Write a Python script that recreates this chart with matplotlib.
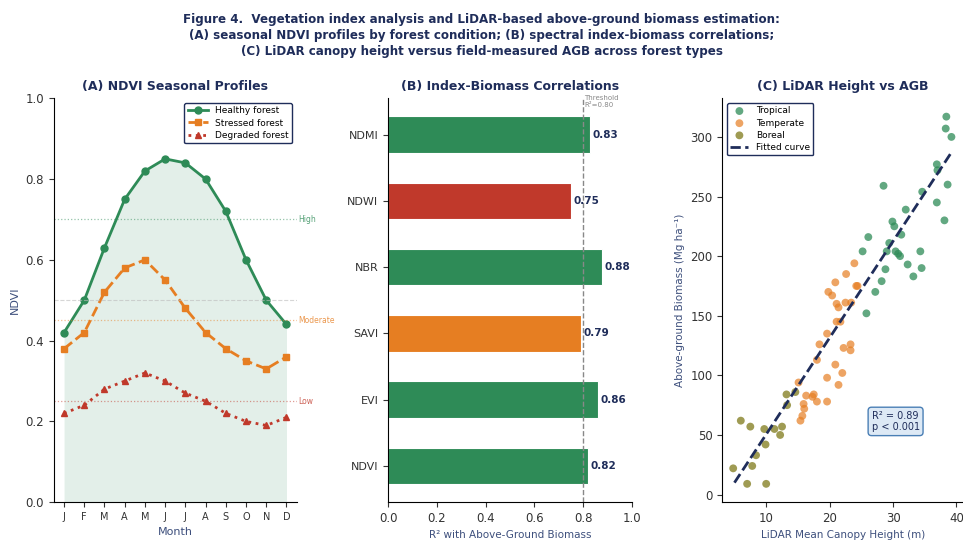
import numpy as np
import matplotlib
matplotlib.use("Agg")
import matplotlib.pyplot as plt

# ---- Panel A: seasonal NDVI ----
months = ["J", "F", "M", "A", "M", "J", "J", "A", "S", "O", "N", "D"]
ndvi_healthy = [0.42, 0.50, 0.63, 0.75, 0.82, 0.85, 0.84, 0.80, 0.72, 0.60, 0.50, 0.44]
ndvi_stressed = [0.38, 0.42, 0.52, 0.58, 0.60, 0.55, 0.48, 0.42, 0.38, 0.35, 0.33, 0.36]
ndvi_degraded = [0.22, 0.24, 0.28, 0.30, 0.32, 0.30, 0.27, 0.25, 0.22, 0.20, 0.19, 0.21]
threshold_names = ["High", "Moderate", "Low"]
threshold_values = [0.70, 0.45, 0.25]

# ---- Panel B: index-biomass correlations ----
indices = ["NDVI", "EVI", "SAVI", "NBR", "NDWI", "NDMI"]
r2_values = [0.82, 0.86, 0.79, 0.88, 0.75, 0.83]
r2_threshold = 0.80

# ---- Panel C: LiDAR height vs AGB ----
tropical_h = [25.8, 27.2, 28.2, 28.8, 25.2, 26.1, 29.0, 29.4, 30.4, 30.8, 31.1, 32.3,
              33.2, 34.3, 34.5, 31.3, 28.5, 29.9, 30.2, 32.0, 34.6, 36.9, 37.0, 36.9,
              38.1, 38.6, 38.4, 38.3, 39.2]
tropical_agb = [152, 170, 179, 189, 204, 216, 204, 211, 204, 202, 200, 193,
                183, 204, 190, 218, 259, 229, 225, 239, 254, 277, 272, 245,
                230, 260, 317, 307, 300]
temperate_h = [15.1, 15.4, 15.7, 15.9, 16.0, 16.3, 17.3, 17.5, 18.0, 18.0, 18.4, 19.6,
               19.6, 19.6, 20.9, 21.4, 22.0, 22.2, 23.3, 23.3, 21.1, 21.7, 21.1, 21.4,
               22.5, 23.4, 19.8, 20.4, 20.9, 24.4, 22.6, 23.9, 24.2]
temperate_agb = [94, 62, 66, 76, 72, 83, 82, 84, 78, 113, 126, 98,
                 78, 135, 109, 92, 102, 123, 126, 121, 145, 145, 160, 157,
                 161, 161, 170, 167, 178, 175, 185, 194, 175]
boreal_h = [4.8, 6.0, 7.0, 7.5, 7.8, 8.4, 9.7, 9.9, 10.0, 11.3, 12.2, 12.5, 13.2, 13.3, 14.6]
boreal_agb = [22, 62, 9, 57, 24, 33, 55, 42, 9, 55, 50, 57, 84, 75, 86]

# Linear fit of AGB on canopy height
fit_slope = 8.1
fit_intercept = -30.5
fit_range = [5.0, 39.3]

NAVY = "#1f2d5a"
LABEL = "#3d4f7c"
GREEN = "#2e8b57"
ORANGE = "#e67e22"
RED = "#c0392b"

plt.rcParams["font.family"] = ["DejaVu Sans"]

fig = plt.figure(figsize=(9.63, 5.4), dpi=100)

fig.text(0.5, 0.975,
         "Figure 4.  Vegetation index analysis and LiDAR-based above-ground biomass estimation:\n"
         "(A) seasonal NDVI profiles by forest condition; (B) spectral index-biomass correlations;\n"
         "(C) LiDAR canopy height versus field-measured AGB across forest types",
         ha="center", va="top", fontsize=8.6, fontweight="bold", color=NAVY,
         linespacing=1.25)

axA = fig.add_axes([0.056, 0.070, 0.252, 0.748])
axB = fig.add_axes([0.403, 0.070, 0.253, 0.748])
axC = fig.add_axes([0.750, 0.070, 0.250, 0.748])

for ax in (axA, axB, axC):
    ax.spines["top"].set_visible(False)
    ax.spines["right"].set_visible(False)
    ax.tick_params(labelsize=8.5, colors="#333333")

# Panel A
x = np.arange(len(months))
axA.fill_between(x, 0, ndvi_healthy, color=GREEN, alpha=0.13, linewidth=0)
axA.plot(x, ndvi_healthy, "-o", color=GREEN, lw=2, ms=5, label="Healthy forest")
axA.plot(x, ndvi_stressed, "--s", color=ORANGE, lw=2, ms=5, label="Stressed forest")
axA.plot(x, ndvi_degraded, ":^", color=RED, lw=2, ms=5, label="Degraded forest")
axA.axhline(0.5, color="#bbbbbb", ls="--", lw=0.8, alpha=0.6)
for name, val, col in zip(threshold_names, threshold_values, [GREEN, ORANGE, RED]):
    axA.axhline(val, color=col, ls=":", lw=0.9, alpha=0.5)
    axA.text(11.6, val, name, fontsize=5.5, color=col, alpha=0.8, va="center", ha="left",
             clip_on=False)
axA.set_xlim(-0.5, 11.5)
axA.set_ylim(0, 1.0)
axA.set_xticks(x)
axA.set_xticklabels(months, fontsize=7)
axA.set_xlabel("Month", color=LABEL, fontsize=8)
axA.set_ylabel("NDVI", color=LABEL, fontsize=8)
axA.set_title("(A) NDVI Seasonal Profiles", fontsize=9, fontweight="bold", color=NAVY, pad=6)
legA = axA.legend(loc="upper right", fontsize=6.5, frameon=True, borderpad=0.4,
                  handlelength=2.2, labelspacing=0.35)
legA.get_frame().set_edgecolor(NAVY)
legA.get_frame().set_linewidth(1.0)
legA.get_frame().set_alpha(1)

# Panel B
bar_colors = [GREEN if v >= r2_threshold else (ORANGE if v >= 0.78 else RED) for v in r2_values]
yb = np.arange(len(indices))
axB.barh(yb, r2_values, height=0.55, color=bar_colors, edgecolor="white", linewidth=0.8)
for yi, v in zip(yb, r2_values):
    axB.text(v + 0.01, yi, f"{v:.2f}", va="center", ha="left", fontsize=7.5,
             fontweight="bold", color=NAVY)
axB.axvline(r2_threshold, color="#888888", ls="--", lw=1)
axB.text(r2_threshold + 0.005, len(indices) - 0.5, "Threshold\nR²=0.80", fontsize=5,
         color="#888888", va="center", ha="left", linespacing=1.1)
axB.set_yticks(yb)
axB.set_yticklabels(indices, fontsize=8)
axB.set_xlim(0, 1.0)
axB.set_ylim(-0.55, 5.55)
axB.set_xlabel("R² with Above-Ground Biomass", color=LABEL, fontsize=7.5)
axB.set_title("(B) Index-Biomass Correlations", fontsize=9, fontweight="bold", color=NAVY, pad=6)

# Panel C
axC.scatter(tropical_h, tropical_agb, s=32, color=GREEN, alpha=0.75, edgecolor="none",
            label="Tropical")
axC.scatter(temperate_h, temperate_agb, s=32, color=ORANGE, alpha=0.7, edgecolor="none",
            label="Temperate")
axC.scatter(boreal_h, boreal_agb, s=32, color="#7f7a1a", alpha=0.75, edgecolor="none",
            label="Boreal")
hx = np.linspace(fit_range[0], fit_range[1], 100)
axC.plot(hx, fit_slope * hx + fit_intercept, "--", color=NAVY, lw=2, label="Fitted curve")
axC.text(0.72, 0.2, "R² = 0.89\np < 0.001", transform=axC.transAxes, fontsize=7,
         color=NAVY, ha="center", va="center",
         bbox=dict(boxstyle="round,pad=0.35", facecolor="#dde9f5", edgecolor="#4a7fb5", lw=1))
axC.set_xlabel("LiDAR Mean Canopy Height (m)", color=LABEL, fontsize=7.5)
axC.set_ylabel("Above-ground Biomass (Mg ha⁻¹)", color=LABEL, fontsize=7.5)
axC.set_title("(C) LiDAR Height vs AGB", fontsize=9, fontweight="bold", color=NAVY, pad=6)
axC.set_xticks([10, 20, 30, 40])
axC.set_yticks([0, 50, 100, 150, 200, 250, 300])
legC = axC.legend(loc="upper left", fontsize=6.5, frameon=True, borderpad=0.4,
                  handlelength=2.0, labelspacing=0.35)
legC.get_frame().set_edgecolor(NAVY)
legC.get_frame().set_linewidth(1.0)
legC.get_frame().set_alpha(1)

fig.savefig("out.png", dpi=100)
